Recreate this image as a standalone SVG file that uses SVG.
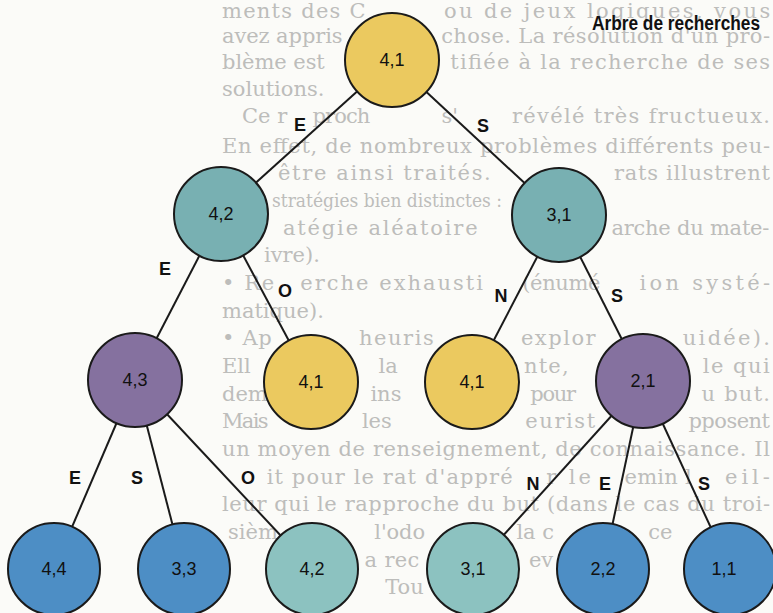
<svg xmlns="http://www.w3.org/2000/svg" width="773" height="613" viewBox="0 0 773 613">
<style>
.bg{font-family:"DejaVu Serif","Liberation Serif",serif;font-size:21px;fill:#bdbdbb}
.edge{stroke:#1a1a1a;stroke-width:2;fill:none}
.node{stroke:#1a1a1a;stroke-width:2}
.yel{fill:#ebc95f}
.teal{fill:#78b0b2}
.lteal{fill:#8cc2c0}
.pur{fill:#85719f}
.blu{fill:#4d8ec5}
.nl{font-family:"Liberation Sans",Arial,sans-serif;font-size:18px;fill:#111;text-anchor:middle}
.el{font-family:"Liberation Sans",Arial,sans-serif;font-size:18px;font-weight:bold;fill:#111;text-anchor:middle}
.title{font-family:"Liberation Sans",Arial,sans-serif;font-size:20px;font-weight:bold;fill:#111}
</style>
<rect x="0" y="0" width="773" height="613" fill="#fbfbf8"/>
<g id="page-text" class="bg">
<text x="222" y="18" textLength="143.6" lengthAdjust="spacing">ments des C</text>
<text x="443.9" y="18" textLength="326.3" lengthAdjust="spacing">ou de jeux logiques, vous</text>
<text x="222" y="43" textLength="120.6" lengthAdjust="spacing">avez appris</text>
<text x="441.2" y="43" textLength="328.8" lengthAdjust="spacing">chose. La résolution d'un pro-</text>
<text x="222" y="69" textLength="102.8" lengthAdjust="spacing">blème est</text>
<text x="450.3" y="69" textLength="319.7" lengthAdjust="spacing">tifiée à la recherche de ses</text>
<text x="222" y="96">solutions.</text>
<text x="242" y="123">Ce r</text>
<text x="312.4" y="123" textLength="58" lengthAdjust="spacing">proch</text>
<text x="441.5" y="123">s'</text>
<text x="511.9" y="123" textLength="258.1" lengthAdjust="spacing">révélé très fructueux.</text>
<text x="222" y="153" textLength="548" lengthAdjust="spacing">En effet, de nombreux problèmes différents peu-</text>
<text x="278" y="180" textLength="212.8" lengthAdjust="spacing">être ainsi traités.</text>
<text x="614" y="180" textLength="156" lengthAdjust="spacing">rats illustrent</text>
<text x="272" y="207" style="font-size:18px" textLength="230" lengthAdjust="spacingAndGlyphs">stratégies bien distinctes :</text>
<text x="282.9" y="235" textLength="194.7" lengthAdjust="spacing">atégie aléatoire</text>
<text x="611.4" y="235" textLength="158" lengthAdjust="spacing">arche du mate-</text>
<text x="264" y="262">ivre).</text>
<text x="222" y="290" textLength="52.2" lengthAdjust="spacing">• Re</text>
<text x="300.3" y="290" textLength="182.7" lengthAdjust="spacing">erche exhausti</text>
<text x="522.2" y="290" textLength="78.3" lengthAdjust="spacing">(énumé</text>
<text x="639.6" y="290" textLength="130.4" lengthAdjust="spacing">ion systé-</text>
<text x="222" y="318">matique).</text>
<text x="222" y="345" textLength="49.8" lengthAdjust="spacing">• Ap</text>
<text x="359" y="345" textLength="74.7" lengthAdjust="spacing">heuris</text>
<text x="520.9" y="345" textLength="74.7" lengthAdjust="spacing">explor</text>
<text x="682.8" y="345" textLength="87.2" lengthAdjust="spacing">uidée).</text>
<text x="222" y="373">Ell</text>
<text x="378.5" y="373">la</text>
<text x="523.9" y="373" textLength="44.7" lengthAdjust="spacing">nte,</text>
<text x="702.7" y="373" textLength="67.1" lengthAdjust="spacing">le qui</text>
<text x="222" y="401">dem</text>
<text x="370.4" y="401">ins</text>
<text x="530.3" y="401" textLength="45.7" lengthAdjust="spacing">pour</text>
<text x="701.5" y="401" textLength="68.5" lengthAdjust="spacing">u but.</text>
<text x="222" y="428" textLength="46.6" lengthAdjust="spacing">Mais</text>
<text x="361.9" y="428">les</text>
<text x="525.2" y="428" textLength="70" lengthAdjust="spacing">eurist</text>
<text x="688.4" y="428" textLength="81.6" lengthAdjust="spacing">pposent</text>
<text x="222" y="456" textLength="548" lengthAdjust="spacing">un moyen de renseignement, de connaissance. Il</text>
<text x="266.7" y="484" textLength="246" lengthAdjust="spacing">it pour le rat d'appré</text>
<text x="546.2" y="484" textLength="44.7" lengthAdjust="spacing">r le</text>
<text x="624.5" y="484" textLength="67.1" lengthAdjust="spacing">emin l</text>
<text x="725.1" y="484" textLength="44.7" lengthAdjust="spacing">eil-</text>
<text x="222" y="511" textLength="548" lengthAdjust="spacing">leur qui le rapproche du but (dans le cas du troi-</text>
<text x="228" y="539">sièm</text>
<text x="374.3" y="539" textLength="50.8" lengthAdjust="spacing">l'odo</text>
<text x="516.4" y="539">la c</text>
<text x="648.3" y="539">ce</text>
<text x="364.5" y="567" textLength="54.8" lengthAdjust="spacing">a rec</text>
<text x="528.9" y="567">ev</text>
<text x="385.2" y="594">Tou</text>
</g>
<g id="connectors">
<line class="edge" x1="392" y1="60" x2="221" y2="214"/>
<line class="edge" x1="392" y1="60" x2="559" y2="215"/>
<line class="edge" x1="221" y1="214" x2="135" y2="380"/>
<line class="edge" x1="221" y1="214" x2="311" y2="382"/>
<line class="edge" x1="559" y1="215" x2="472" y2="382"/>
<line class="edge" x1="559" y1="215" x2="643" y2="381"/>
<line class="edge" x1="135" y1="380" x2="54" y2="569"/>
<line class="edge" x1="135" y1="380" x2="184" y2="569"/>
<line class="edge" x1="135" y1="380" x2="312" y2="569"/>
<line class="edge" x1="643" y1="381" x2="473" y2="569"/>
<line class="edge" x1="643" y1="381" x2="603" y2="569"/>
<line class="edge" x1="643" y1="381" x2="730" y2="569"/>
<g id="edge-labels">
<text class="el" x="300" y="131">E</text>
<text class="el" x="483" y="132">S</text>
<text class="el" x="165" y="275">E</text>
<text class="el" x="285" y="297">O</text>
<text class="el" x="501" y="302">N</text>
<text class="el" x="617" y="302">S</text>
<text class="el" x="75" y="484">E</text>
<text class="el" x="137" y="484">S</text>
<text class="el" x="248" y="484">O</text>
<text class="el" x="533" y="490">N</text>
<text class="el" x="605" y="490">E</text>
<text class="el" x="704" y="490">S</text>
</g>
</g>
<g id="n-root"><circle class="node yel" cx="392" cy="60" r="47"/><text class="nl" x="392" y="66">4,1</text></g>
<g id="n-42a"><circle class="node teal" cx="221" cy="214" r="47"/><text class="nl" x="221" y="220">4,2</text></g>
<g id="n-31a"><circle class="node teal" cx="559" cy="215" r="47"/><text class="nl" x="559" y="221">3,1</text></g>
<g id="n-43"><circle class="node pur" cx="135" cy="380" r="47"/><text class="nl" x="135" y="386">4,3</text></g>
<g id="n-41a"><circle class="node yel" cx="311" cy="382" r="47"/><text class="nl" x="311" y="388">4,1</text></g>
<g id="n-41b"><circle class="node yel" cx="472" cy="382" r="47"/><text class="nl" x="472" y="388">4,1</text></g>
<g id="n-21"><circle class="node pur" cx="643" cy="381" r="47"/><text class="nl" x="643" y="387">2,1</text></g>
<g id="n-44"><circle class="node blu" cx="54" cy="569" r="46"/><text class="nl" x="54" y="575">4,4</text></g>
<g id="n-33"><circle class="node blu" cx="184" cy="569" r="46"/><text class="nl" x="184" y="575">3,3</text></g>
<g id="n-42b"><circle class="node lteal" cx="312" cy="569" r="46"/><text class="nl" x="312" y="575">4,2</text></g>
<g id="n-31b"><circle class="node lteal" cx="473" cy="569" r="46"/><text class="nl" x="473" y="575">3,1</text></g>
<g id="n-22"><circle class="node blu" cx="603" cy="569" r="46"/><text class="nl" x="603" y="575">2,2</text></g>
<g id="n-11"><circle class="node blu" cx="730" cy="569" r="46"/><text class="nl" x="724" y="575">1,1</text></g>
<g id="title"><text class="title" x="760" y="30" text-anchor="end" textLength="168" lengthAdjust="spacingAndGlyphs">Arbre de recherches</text></g>
</svg>
